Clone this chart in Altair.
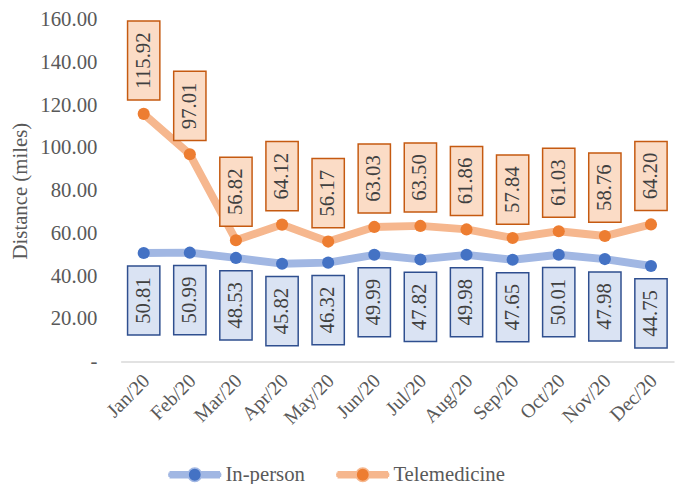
import math
import altair as alt
import pandas as pd

months = ["Jan/20", "Feb/20", "Mar/20", "Apr/20", "May/20", "Jun/20",
          "Jul/20", "Aug/20", "Sep/20", "Oct/20", "Nov/20", "Dec/20"]
in_person = [50.81, 50.99, 48.53, 45.82, 46.32, 49.99, 47.82, 49.98, 47.65, 50.01, 47.98, 44.75]
telemedicine = [115.92, 97.01, 56.82, 64.12, 56.17, 63.03, 63.50, 61.86, 57.84, 61.03, 58.76, 64.20]
series_names = ["In-person", "Telemedicine"]
y_ticks = [0, 20, 40, 60, 80, 100, 120, 140, 160]

rows = []
for name, vals in zip(series_names, [in_person, telemedicine]):
    for m, v in zip(months, vals):
        rows.append({"month": m, "series": name, "value": v, "label": f"{v:.2f}"})
df = pd.DataFrame(rows)

FONT = "Liberation Serif"
GREY = "#595959"

# legend symbol: thick light line (drawn as several thin strokes) with a dark dot
SYM = 54.0            # symbol width in px
U = SYM / 2           # px per path unit
R_DOT = 6.8
H_BAND = 3.8
parts = []
for yi in [-3.0, -1.5, 0.0, 1.5, 3.0]:
    gap = math.sqrt(max(R_DOT ** 2 - yi ** 2, 0))
    xe = U - (H_BAND - math.sqrt(H_BAND ** 2 - yi ** 2))
    parts.append(f"M{-xe / U:.4f},{yi / U:.4f}L{-gap / U:.4f},{yi / U:.4f}")
    parts.append(f"M{gap / U:.4f},{yi / U:.4f}L{xe / U:.4f},{yi / U:.4f}")
r = R_DOT / U
parts.append(f"M{-r:.4f},0A{r:.4f},{r:.4f} 0 1,1 {r:.4f},0A{r:.4f},{r:.4f} 0 1,1 {-r:.4f},0Z")
legend_path = "".join(parts)

x = alt.X("month:N", sort=months,
          scale=alt.Scale(type="band", paddingInner=0.3, paddingOuter=0.15),
          axis=alt.Axis(title=None, labelAngle=315, labelAlign="right", labelBaseline="middle",
                        labelFont=FONT, labelFontSize=20, labelColor=GREY, ticks=False,
                        labelPadding=16, labelOffset=3, domainColor="#D9D9D9", domainWidth=1.5))
y = alt.Y("value:Q", scale=alt.Scale(domain=[0, 160], nice=False),
          axis=alt.Axis(title="Distance (miles)", values=y_ticks, grid=False, domain=False,
                        ticks=False,
                        labelExpr="datum.value == 0 ? '-\u00a0\u00a0\u00a0' : format(datum.value, '.2f')",
                        labelFont=FONT, labelFontSize=21, labelColor=GREY, labelPadding=24,
                        titleFont=FONT, titleFontSize=21, titleFontWeight="normal",
                        titleColor=GREY, titlePadding=10))


def make_legend():
    return alt.Legend(orient="none", legendX=47, legendY=432, direction="horizontal", title=None,
                      labelFont=FONT, labelFontSize=21, labelColor=GREY,
                      symbolType=legend_path, symbolSize=SYM * SYM, symbolStrokeWidth=1.6,
                      labelOffset=3, columnPadding=27, padding=0)


base = alt.Chart(df)

lines = base.mark_line(strokeWidth=8, strokeCap="round", strokeJoin="round").encode(
    x=x, y=y,
    stroke=alt.Stroke("series:N",
                      scale=alt.Scale(domain=series_names, range=["#A1B7E3", "#F6B78E"]),
                      legend=make_legend()),
    detail="series:N",
)

points = base.mark_point(filled=True, size=150, opacity=1).encode(
    x=x, y=y,
    fill=alt.Fill("series:N",
                  scale=alt.Scale(domain=series_names, range=["#4472C4", "#ED7D31"]),
                  legend=make_legend()),
)

ip = base.transform_filter(alt.datum.series == "In-person")
tm_lo = base.transform_filter((alt.datum.series == "Telemedicine") & (alt.datum.value < 100))
tm_hi = base.transform_filter((alt.datum.series == "Telemedicine") & (alt.datum.value >= 100))

box_ip = ip.mark_rect(fill="#DAE3F3", stroke="#2F4F8F", strokeWidth=1.5,
                      yOffset=13, y2Offset=83).encode(x=x, y=y, y2="value:Q")
box_tm = tm_lo.mark_rect(fill="#FBDCC6", stroke="#C55A11", strokeWidth=1.5,
                         yOffset=-14, y2Offset=-84).encode(x=x, y=y, y2="value:Q")
box_tm2 = tm_hi.mark_rect(fill="#FBDCC6", stroke="#C55A11", strokeWidth=1.5,
                          yOffset=-14, y2Offset=-94).encode(x=x, y=y, y2="value:Q")

txt_kw = dict(angle=270, align="center", baseline="middle", font=FONT, fontSize=21, color="#404040")
txt_ip = ip.mark_text(yOffset=48, **txt_kw).encode(x=x, y=y, text="label:N")
txt_tm = tm_lo.mark_text(yOffset=-49, **txt_kw).encode(x=x, y=y, text="label:N")
txt_tm2 = tm_hi.mark_text(yOffset=-54, **txt_kw).encode(x=x, y=y, text="label:N")

chart = alt.layer(lines, points, box_ip, box_tm, box_tm2, txt_ip, txt_tm, txt_tm2).properties(
    width=560, height=346,
    autosize=alt.AutoSizeParams(type="none"),
    padding={"left": 114, "top": 9, "right": 3, "bottom": 121},
).configure_view(stroke=None)

chart.save("out.html", embed_options={"renderer": "svg", "actions": False})
